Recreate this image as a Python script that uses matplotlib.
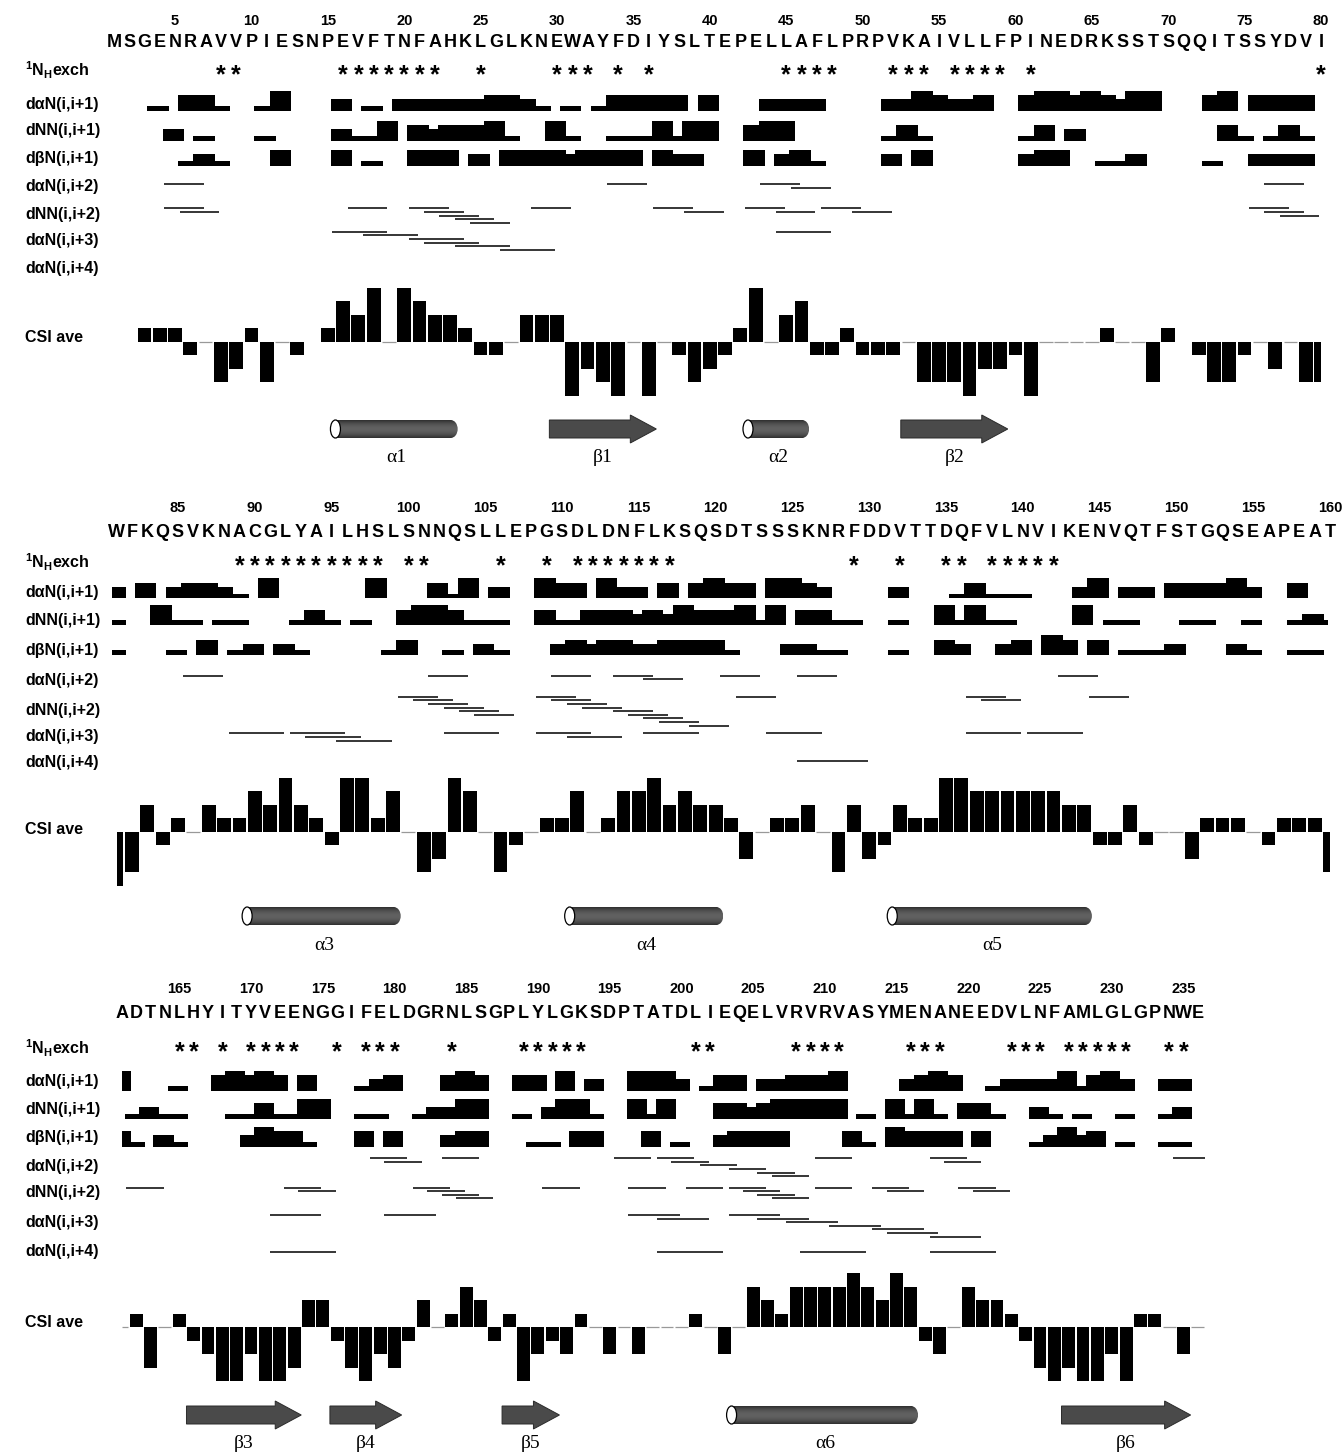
import numpy as np
import matplotlib.pyplot as plt
from matplotlib.patches import Rectangle, Ellipse, FancyArrow

plt.rcParams['font.family'] = ['Liberation Sans', 'DejaVu Sans']
plt.rcParams['mathtext.fontset'] = 'custom'
plt.rcParams['mathtext.rm'] = 'Liberation Sans'
plt.rcParams['mathtext.bf'] = 'Liberation Sans:bold'

W, H = 1344, 1452

# ---------------- data ----------------
SEQUENCE = ("MSGENRAVVPIESNPEVFTNFAHKLGLKNEWAYFDIYSLTEPELLAFLPRPVKAIVLLFPINEDRKSSTSQQITSSYDVI"
            "WFKQSVKNACGLYAILHSLSNNQSLLEPGSDLDNFLKSQSDTSSSKNRFDDVTTDQFVLNVIKENVQTFSTGQSEAPEAT"
            "ADTNLHYITYVEENGGIFELDGRNLSGPLYLGKSDPTATDLIEQELVRVRVASYMENANEEDVLNFAMLGLGPNWE")

# slowly exchanging amide protons
NH_EXCH = [8, 9, 16, 17, 18, 19, 20, 21, 22, 25, 30, 31, 32, 34, 36, 45, 46, 47, 48,
           52, 53, 54, 56, 57, 58, 59, 61, 80,
           89, 90, 91, 92, 93, 94, 95, 96, 97, 98, 100, 101, 106, 109, 111, 112, 113,
           114, 115, 116, 117, 129, 132, 135, 136, 138, 139, 140, 141, 142,
           165, 166, 168, 170, 171, 172, 173, 176, 178, 179, 180, 184, 189, 190, 191,
           192, 193, 201, 202, 208, 209, 210, 211, 216, 217, 218, 223, 224, 225, 227,
           228, 229, 230, 231, 234, 235]

# sequential NOE intensity for residue i -> i+1 (one digit per residue, 0 = none, 4 = strongest)
D_AN1 = ("0010331001" "4000201022" "2222332101" "0133333030"
         "0022220000" "2243223003" "4434324400" "0340333302"
         "0302332104" "0000004000" "3140200433" "0422030343"
         "3044320000" "2000131110" "0024022033" "3342003004"
         "0001003434" "3030001230" "0034300330" "4020044420"
         "1330223334" "0000234300" "1222241342" "002200")
D_NN1 = ("0002010001" "0000211403" "2333410041" "0011141440"
         "0344000000" "1310000001" "3020000000" "0031013101"
         "0041101100" "0131010034" "4311100311" "3332324333"
         "4140331100" "1004141100" "0040110001" "1001001210"
         "1211000113" "1144001100" "1224400102" "4410041400"
         "0332344444" "0104141033" "1002101001" "001200")
D_BN1 = ("0000121000" "3000301003" "3302033332" "3333032200"
         "0302310000" "2030000002" "3300112000" "0100222201"
         "0001030120" "2100000130" "0102100023" "2332233331"
         "0002211000" "1003200230" "4303011120" "0021001103"
         "1021000024" "3310003030" "0023300011" "0330003010"
         "0233330000" "3104333303" "0001242301" "001100")

# medium-range NOEs: first residue i of each (i, i+k) contact
D_AN2 = [4, 33, 43, 45, 76, 85, 101, 109, 113, 115, 120, 125, 142,
         178, 179, 183, 195, 198, 199, 201, 203, 205, 206, 209, 217, 218, 234]
D_NN2 = [4, 5, 16, 20, 21, 22, 23, 24, 28, 36, 38, 42, 44, 47, 49, 75, 76, 77,
         99, 100, 101, 102, 103, 104, 108, 109, 110, 111, 113, 114, 115, 116, 118,
         121, 136, 137, 144,
         161, 172, 173, 181, 182, 183, 184, 190, 196, 200, 203, 204, 205, 206, 209,
         213, 214, 219, 220]
D_AN3 = [15, 17, 20, 21, 23, 26, 44, 88, 92, 93, 95, 102, 108, 110, 115, 123, 136, 140,
         171, 179, 196, 198, 203, 205, 207, 210, 213, 214, 217]
D_AN4 = [125, 171, 198, 208, 217]

# averaged chemical shift index, in steps of 0.25 (None = not assigned)
CSI_QUARTERS = [
    None, None, 1, 1, 1, -1, 0, -3, -2, 1, -3, 0, -1, None, 1, 3, 2, 4, 0, 4,
    3, 2, 2, 1, -1, -1, 0, 2, 2, 2, -4, -2, -3, -4, 0, -4, 0, -1, -3, -2,
    -1, 1, 4, 0, 2, 3, -1, -1, 1, -1, -1, -1, 0, -3, -3, -3, -4, -2, -2, -1,
    -4, 0, 0, 0, 0, 1, 0, 0, -3, 1, None, -1, -3, -3, -1, 0, -2, 0, -3, -3,
    -4, -3, 2, -1, 1, 0, 2, 1, 1, 3, 2, 4, 2, 1, -1, 4, 4, 1, 3, 0,
    -3, -2, 4, 3, 0, -3, -1, 0, 1, 1, 3, 0, 1, 3, 3, 4, 2, 3, 2, 2,
    1, -2, 0, 1, 1, 2, 0, -3, 2, -2, -1, 2, 1, 1, 4, 4, 3, 3, 3, 3,
    3, 3, 2, 2, -1, -1, 2, -1, 0, 0, -2, 1, 1, 1, 0, -1, 1, 1, 1, -3,
    0, 1, -3, 0, 1, -1, -2, -4, -4, -2, -4, -4, -3, 2, 2, -1, -3, -4, -2, -3,
    -1, 2, 0, 1, 3, 2, -1, 1, -4, -2, -1, -2, 1, 0, -2, 0, -2, 0, 0, 0,
    1, 0, -2, 0, 3, 2, 1, 3, 3, 3, 3, 4, 3, 2, 4, 3, -1, -2, 0, 3,
    2, 2, 1, -1, -3, -4, -3, -4, -4, -2, -4, 1, 1, 0, -2, 0]

# secondary structure elements: (type, first residue, last residue, name)
SS_ELEMENTS = [("helix", 16, 23, "α1"), ("strand", 30, 36, "β1"),
               ("helix", 43, 46, "α2"), ("strand", 53, 59, "β2"),
               ("helix", 90, 99, "α3"), ("helix", 111, 120, "α4"),
               ("helix", 132, 144, "α5"), ("strand", 166, 173, "β3"),
               ("strand", 176, 180, "β4"), ("strand", 188, 191, "β5"),
               ("helix", 204, 216, "α6"), ("strand", 227, 235, "β6")]

ROW_LABELS = [r"$^{\mathbf{1}}\mathbf{N}_{\mathbf{H}}\mathbf{exch}$", "dαN(i,i+1)", "dNN(i,i+1)",
              "dβN(i,i+1)", "dαN(i,i+2)", "dNN(i,i+2)", "dαN(i,i+3)", "dαN(i,i+4)", "CSI ave"]

# ---------------- layout (pixels) ----------------
PANELS = [
    dict(res=(1, 80), px0=175.0, res0=5, ppr=15.28, band=(0, 470),
         y_num=25, y_seq=46.7, y_star=68.3,
         y_noe=(110.7, 140.7, 165.7), y_lines=(184.3, 208.3, 231.7, 262.0),
         y_csi=341.7, y_ss=429, y_sslab=457,
         label_y=(70, 104, 131, 159, 187, 214, 241, 268, 337),
         noe_clip=(0.5, 79.95), csi_clip=(0.5, 80.0)),
    dict(res=(81, 160), px0=178.0, res0=85, ppr=15.36, band=(470, 960),
         y_num=511.7, y_seq=536.7, y_star=559.5,
         y_noe=(598.3, 625.0, 655.0), y_lines=(675.7, 696.7, 733.3, 761.0),
         y_csi=831.7, y_ss=916, y_sslab=945,
         label_y=(562, 592, 620, 650, 680, 711, 737, 763, 829),
         noe_clip=(80.7, 159.9), csi_clip=(81.0, 160.0)),
    dict(res=(161, 236), px0=179.3, res0=165, ppr=14.345, band=(960, 1452),
         y_num=992.7, y_seq=1017.7, y_star=1045.5,
         y_noe=(1090.7, 1119.0, 1146.7), y_lines=(1158.3, 1187.7, 1215.0, 1251.7),
         y_csi=1327.3, y_ss=1415, y_sslab=1444,
         label_y=(1048, 1082, 1110, 1138, 1167, 1193, 1223, 1252, 1323),
         noe_clip=(161.0, 236.5), csi_clip=(161.0, 236.5)),
]

LEVEL_PX = {1: 4.7, 2: 11.5, 3: 15.5, 4: 20.0}
NOE_SHIFT = 0.9      # centre of an i -> i+1 bar, relative to residue i
NOE_HALF = 0.7
LINE_PAD = (0.3, 0.9)
LANE_PX = 3.6
CSI_PX = 54.0        # pixels per CSI unit
STAR_SIZE = 18

t = np.linspace(-1, 1, 64)
shade = 0.18 + 0.2 * (1 - t ** 2)
SHADE = np.repeat(shade[:, None, None], 3, axis=2)


def lane_layout(starts, k):
    out, prev_end, lane = [], -np.inf, -1
    for s in sorted(starts):
        x0, x1 = s + LINE_PAD[0], s + k + LINE_PAD[1]
        lane = lane + 1 if x0 < prev_end else 0
        out.append((x0, x1, lane))
        prev_end = x1
    return out


def draw_helix(ax, x0, x1, yc, ppr):
    h = 18
    rnd = 7 / ppr
    body = Rectangle((x0, yc - h / 2), x1 - rnd - x0, h, facecolor='none', edgecolor='none')
    end = Ellipse((x1 - rnd, yc), 2 * rnd, h, facecolor='none', edgecolor='none')
    for patch, ext in ((body, [x0, x1 - rnd, yc + h / 2, yc - h / 2]),
                       (end, [x1 - 2 * rnd, x1, yc + h / 2, yc - h / 2])):
        ax.add_patch(patch)
        im = ax.imshow(SHADE, extent=ext, aspect='auto', interpolation='bilinear', zorder=2)
        im.set_clip_path(patch)
    ax.add_patch(Ellipse((x0, yc), 10 / ppr, h, facecolor='white', edgecolor='black',
                         lw=0.9, zorder=3))


def draw_strand(ax, x0, x1, yc, ppr):
    ax.add_patch(FancyArrow(x0, yc, x1 - x0, 0, width=18, head_width=28,
                            head_length=26 / ppr, length_includes_head=True,
                            facecolor='#4a4a4a', edgecolor='#2a2a2a', lw=0.7, zorder=2))


fig = plt.figure(figsize=(W / 100, H / 100), dpi=100)
csi_all = np.array([np.nan if v is None else v for v in CSI_QUARTERS], dtype=float) * 0.25

for p in PANELS:
    first, last = p['res']
    ppr = p['ppr']
    xlim = (p['res0'] - p['px0'] / ppr, p['res0'] + (W - p['px0']) / ppr)
    top, bottom = p['band']

    ax = fig.add_axes([0, 1 - bottom / H, 1, (bottom - top) / H])
    ax.axis('off')

    # row labels
    for lab, ly in zip(ROW_LABELS, p['label_y']):
        ax.text(25 / W, ly, lab, transform=ax.get_yaxis_transform(), ha='left', va='center',
                fontsize=11.5, fontweight='bold')

    residues = np.arange(first, last + 1)
    for n in residues:
        if n % 5 == 0:
            ax.text(n, p['y_num'], str(n), ha='center', va='baseline', fontsize=10.5,
                    fontweight='bold')
        ax.text(n, p['y_seq'], SEQUENCE[n - 1], ha='center', va='baseline', fontsize=13,
                fontweight='bold')

    em = STAR_SIZE * 100 / 72
    for r in NH_EXCH:
        if first <= r <= last:
            ax.text(r, p['y_star'] + 0.56 * em, '*', ha='center', va='baseline',
                    fontsize=STAR_SIZE, fontweight='bold')

    # sequential NOEs
    lo, hi = p['noe_clip']
    for levels, y0 in zip((D_AN1, D_NN1, D_BN1), p['y_noe']):
        idx = np.array([i for i in range(first - 1, last + 1)
                        if 1 <= i <= len(levels) and levels[i - 1] != '0'])
        hts = np.array([LEVEL_PX[int(levels[i - 1])] for i in idx])
        lefts = np.clip(idx + NOE_SHIFT - NOE_HALF, lo, hi)
        rights = np.clip(idx + NOE_SHIFT + NOE_HALF, lo, hi)
        keep = rights > lefts
        ax.bar(lefts[keep], -hts[keep], width=(rights - lefts)[keep], bottom=y0,
               align='edge', color='black', linewidth=0)

    # medium-range NOEs
    for starts, k, y0 in zip((D_AN2, D_NN2, D_AN3, D_AN4), (2, 2, 3, 4), p['y_lines']):
        sel = [s for s in starts if first <= s <= last]
        for x0, x1, lane in lane_layout(sel, k):
            ax.hlines(y0 + lane * LANE_PX, x0, min(x1, hi), colors='black', lw=1.1)

    # secondary structure
    for kind, s, e, name in SS_ELEMENTS:
        if not first <= s <= last:
            continue
        x0, x1 = s - 0.5, e + 0.5
        if kind == 'helix':
            draw_helix(ax, x0, x1, p['y_ss'], ppr)
        else:
            draw_strand(ax, x0, x1, p['y_ss'], ppr)
        ax.text((x0 + x1) / 2, p['y_sslab'], name, ha='center', va='center',
                family='Liberation Serif', fontsize=14)

    ax.set_xlim(xlim)
    ax.set_ylim(bottom, top)

    # CSI bars
    span = 75
    axc = fig.add_axes([0, 1 - (p['y_csi'] + span) / H, 1, 2 * span / H])
    axc.axis('off')
    vals = csi_all[first - 1:last]
    clo, chi = p['csi_clip']
    lefts = np.clip(residues - 0.45, clo, chi)
    rights = np.clip(residues + 0.45, clo, chi)
    nz = np.isfinite(vals) & (vals != 0)
    axc.bar(lefts[nz], vals[nz], width=(rights - lefts)[nz], align='edge',
            color='black', linewidth=0)
    zero = np.isfinite(vals) & (vals == 0)
    axc.hlines(np.zeros(zero.sum()), lefts[zero], rights[zero], colors='0.6', lw=0.9)
    axc.set_xlim(xlim)
    axc.set_ylim(-span / CSI_PX, span / CSI_PX)

fig.savefig('out.png', dpi=100)
